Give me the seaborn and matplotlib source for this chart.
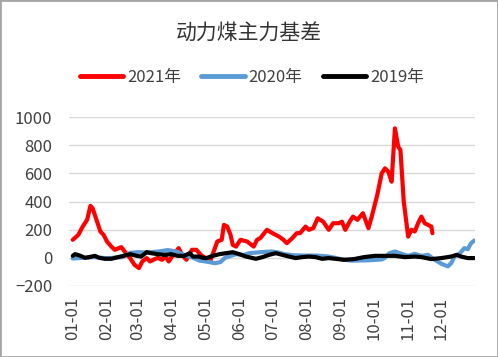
import pandas as pd
import seaborn as sns
import matplotlib.pyplot as plt
from matplotlib.patches import Rectangle

# 2021 basis
dates2021 = ['01-01', '01-06', '01-10', '01-14', '01-17', '01-19', '01-23', '01-26', '01-29',
             '02-01', '02-05', '02-08', '02-14', '02-17', '02-22', '02-26', '03-02', '03-05',
             '03-09', '03-12', '03-15', '03-19', '03-23', '03-26', '03-29', '04-02', '04-07',
             '04-10', '04-14', '04-19', '04-23', '04-27', '05-01', '05-06', '05-12', '05-16',
             '05-18', '05-21', '05-24', '05-26', '05-29', '06-02', '06-08', '06-14', '06-17',
             '06-20', '06-26', '07-01', '07-07', '07-11', '07-14', '07-19', '07-23', '07-26',
             '07-31', '08-03', '08-07', '08-11', '08-16', '08-21', '08-25', '08-30', '09-02',
             '09-05', '09-09', '09-12', '09-16', '09-21', '09-26', '09-29', '10-04', '10-08',
             '10-11', '10-14', '10-17', '10-20', '10-23', '10-25', '10-28', '11-01', '11-04',
             '11-07', '11-10', '11-13', '11-16', '11-19', '11-22', '11-23']
basis2021 = [128, 163, 222, 270, 369, 352, 258, 187, 163,
             116, 80, 57, 76, 45, -2, -50, -73, -26,
             -2, -26, -14, 0, -14, 9, -26, 21, 69,
             21, -14, 57, 57, 21, 0, -14, 116, 128,
             234, 222, 163, 92, 80, 128, 116, 80, 128,
             140, 199, 175, 151, 128, 104, 140, 175, 175,
             222, 199, 211, 281, 257, 199, 246, 246, 257,
             199, 257, 293, 270, 317, 211, 293, 447, 600,
             636, 612, 541, 920, 789, 766, 400, 151, 199,
             187, 246, 293, 246, 234, 222, 175]

# 2020 basis
dates2020 = ['01-01', '01-10', '01-20', '02-01', '02-15', '02-22', '03-01', '03-10', '03-20',
             '03-28', '04-05', '04-12', '04-20', '04-26', '05-03', '05-10', '05-15', '05-19',
             '05-25', '05-29', '06-05', '06-10', '06-20', '06-30', '07-05', '07-12', '07-20',
             '07-31', '08-10', '08-20', '08-27', '09-01', '09-10', '09-25', '10-08', '10-11',
             '10-15', '10-20', '10-26', '11-01', '11-07', '11-13', '11-19', '11-25', '12-01',
             '12-07', '12-10', '12-13', '12-18', '12-22', '12-25', '12-28', '12-31']
basis2020 = [-5, 0, 5, -3, 5, 35, 40, 38, 45,
             55, 45, 20, 0, -20, -28, -38, -30, 0,
             16, 26, 20, 33, 40, 45, 40, 26, 18,
             16, 16, 10, 0, -10, -20, -18, -12, 0,
             33, 45, 28, 14, 28, 14, 21, -14, -42,
             -61, -38, 9, 33, 69, 61, 104, 123]

# 2019 basis
dates2019 = ['01-01', '01-03', '01-07', '01-12', '01-16', '01-21', '01-25', '01-30', '02-05',
             '02-11', '02-16', '02-22', '02-28', '03-04', '03-09', '03-13', '03-19', '03-25',
             '03-31', '04-06', '04-12', '04-17', '04-20', '04-25', '04-29', '05-02', '05-08',
             '05-14', '05-20', '05-26', '06-01', '06-07', '06-16', '06-22', '06-28', '07-04',
             '07-10', '07-16', '07-22', '07-28', '08-03', '08-09', '08-15', '08-21', '08-27',
             '09-04', '09-13', '09-22', '10-02', '10-14', '10-20', '10-29', '11-07', '11-13',
             '11-22', '12-01', '12-10', '12-15', '12-19', '12-25', '12-31']
basis2019 = [14, 26, 17, 0, 5, 14, 0, -7, -7,
             5, 14, 26, 14, 9, 40, 33, 26, 21,
             26, 14, 14, 33, 9, 9, 0, -2, 14,
             26, 33, 40, 26, 9, -7, 5, 21, 33,
             21, 9, -2, 5, 9, 5, -7, -2, -7,
             -14, -9, 5, 14, 14, 14, 5, 9, 5,
             -9, -2, 9, 21, 9, -2, -2]

seriesNames = ['2021年', '2020年', '2019年']
seriesColors = ['#ff0000', '#5b9bd5', '#000000']
monthLabels = ['01-01', '02-01', '03-01', '04-01', '05-01', '06-01',
               '07-01', '08-01', '09-01', '10-01', '11-01', '12-01']

# Build one long table, all years mapped onto a common calendar
frames = []
for name, d, v in zip(seriesNames, [dates2021, dates2020, dates2019], [basis2021, basis2020, basis2019]):
    frames.append(pd.DataFrame({'date': pd.to_datetime(['2021-' + x for x in d]), 'basis': v, 'year': name}))
df = pd.concat(frames)

sns.set_style('white')
plt.rcParams['font.family'] = ['Noto Sans CJK SC', 'DejaVu Sans']

fig = plt.figure(figsize=(4.98, 3.57), dpi=100)
ax = fig.add_axes([0.1386, 0.199, 0.8154, 0.473])

sns.lineplot(data=df, x='date', y='basis', hue='year', hue_order=seriesNames,
             palette=seriesColors, linewidth=3, ax=ax, legend=False)

ax.set_ylim(-200, 1000)
ax.set_yticks(range(-200, 1001, 200))
ax.set_xlim(pd.Timestamp('2021-01-01') - pd.Timedelta(days=3.4), pd.Timestamp('2021-12-31 16:00'))
ax.set_xticks(pd.to_datetime(['2021-' + m for m in monthLabels]))
ax.set_xticklabels(monthLabels, rotation=90)
ax.grid(axis='y', color='#d9d9d9', linewidth=1)
ax.set_axisbelow(True)
for s in ax.spines.values():
    s.set_visible(False)
ax.tick_params(axis='y', length=0, pad=12, labelsize=12, labelcolor='#404040')
ax.tick_params(axis='x', length=0, pad=8, labelsize=12, labelcolor='#404040')
ax.set_xlabel('')
ax.set_ylabel('')

# Legend across the top
handles = [plt.Line2D([], [], color=c, linewidth=3.5) for c in seriesColors]
fig.legend(handles, seriesNames, loc='center', bbox_to_anchor=(0.506, 0.784), ncol=3,
           frameon=False, fontsize=12, handlelength=2.6, handletextpad=0.25, columnspacing=1.2,
           labelcolor='#404040')

fig.text(0.5, 0.905, '动力煤主力基差', ha='center', va='center', fontsize=15, color='#333333')

# Chart border
fig.patches.append(Rectangle((0, 0), 1, 1, transform=fig.transFigure, fill=False,
                             edgecolor='#a6a6a6', linewidth=2))

fig.savefig('out.png', dpi=100)
